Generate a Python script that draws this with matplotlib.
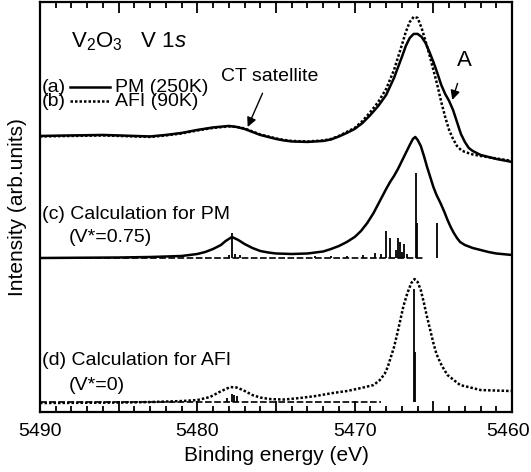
import numpy as np
import matplotlib
matplotlib.use("Agg")
import matplotlib.pyplot as plt
import matplotlib.transforms as mtransforms
from matplotlib.ticker import MultipleLocator, FuncFormatter

plt.rcParams['font.family'] = ['Liberation Sans', 'DejaVu Sans']
plt.rcParams['mathtext.fontset'] = 'custom'
plt.rcParams['mathtext.rm'] = 'Liberation Sans'
plt.rcParams['mathtext.it'] = 'Liberation Sans:italic'

# (a) experiment, PM (250K)
e_pm = [5490, 5488, 5486, 5484, 5483, 5482, 5481, 5480, 5479, 5478, 5477.5, 5477, 5476.5,
        5476, 5475.5, 5475, 5474.5, 5474, 5473, 5472, 5471.5, 5471, 5470.5, 5470, 5469.5,
        5469, 5468.5, 5468, 5467.5, 5467, 5466.75, 5466.5, 5466.25, 5466, 5465.75, 5465.5,
        5465.25, 5465, 5464.75, 5464.5, 5464.25, 5464, 5463.75, 5463.5, 5463.25, 5463,
        5462.75, 5462.5, 5462, 5461.5, 5461, 5460.5, 5460]
i_pm = [276, 276.5, 277, 276, 275.5, 277, 279, 282, 284.5, 286, 285, 283, 280,
        277, 275, 273, 271.5, 270.5, 270, 271, 272.5, 275.5, 279, 283, 289,
        297, 306, 317, 334, 355, 366, 374, 378, 378, 375, 369,
        360, 350, 339, 327, 318, 311, 302, 290, 278, 270,
        264, 261, 257, 255, 253, 251.5, 250]

# (b) experiment, AFI (90K)
e_afi = [5490, 5488, 5486, 5484, 5483, 5482, 5481, 5480, 5479, 5478, 5477.5, 5477, 5476.5,
         5476, 5475.5, 5475, 5474.5, 5474, 5473, 5472, 5471.5, 5471, 5470.5, 5470, 5469.5,
         5469, 5468.5, 5468, 5467.5, 5467, 5466.75, 5466.5, 5466.25, 5466, 5465.75, 5465.5,
         5465.25, 5465, 5464.75, 5464.5, 5464.25, 5464, 5463.75, 5463.5, 5463.25, 5463,
         5462.5, 5462, 5461, 5460]
i_afi = [275.5, 276, 276.5, 275.5, 275, 276.5, 278.5, 281.5, 284, 285.5, 285, 283.5, 280.5,
         277.5, 275.5, 273.5, 272, 271, 270.5, 271.5, 273, 276, 280, 284, 291,
         300, 310, 323, 342, 367, 380, 390, 395, 394, 384, 371,
         357, 342, 327, 310, 295, 282, 273, 266, 262, 260,
         257.5, 256, 253.5, 251]

# (c) calculation for PM (broadened)
e_cpm = [5490, 5485, 5483, 5481, 5480, 5479.5, 5479, 5478.5, 5478.2, 5477.8, 5477.4, 5477,
         5476.5, 5476, 5475.5, 5475, 5474, 5473, 5472, 5471.5, 5471, 5470.5, 5470, 5469.6,
         5469.2, 5468.8, 5468.4, 5468, 5467.75, 5467.5, 5467.25, 5467, 5466.75, 5466.5,
         5466.3, 5466.15, 5466, 5465.8, 5465.6, 5465.4, 5465.2, 5465, 5464.8, 5464.55,
         5464.3, 5464.1, 5463.9, 5463.7, 5463.5, 5463.3, 5463, 5462.5, 5462, 5461.5, 5461, 5460]
i_cpm = [154, 154.5, 155, 156, 158, 160, 163, 167, 171, 175, 172, 168,
         164, 161, 159.5, 158.5, 158, 158.5, 160.5, 163, 166, 170, 175, 181,
         189, 199, 211, 223, 230, 236, 243, 251, 259, 267,
         273, 275, 272, 266, 256, 245, 235, 225, 217, 209,
         200, 192, 185, 179, 174, 170, 167, 164, 162, 160, 158.5, 157]

# (c) line spectrum
stick_pm_base = 154
stick_pm_e = [5477.8, 5477.6, 5478.0, 5477.3, 5472.5, 5471.5, 5470.5, 5469.5, 5468.7, 5468.3,
              5468.0, 5467.75, 5467.4, 5467.25, 5467.1, 5467.0, 5466.85, 5466.7, 5466.1,
              5466.05, 5464.75]
stick_pm_top = [179, 158, 157, 157, 155.5, 156, 156, 157, 159, 158,
                181, 174, 162, 174, 170, 160, 168, 158, 239,
                189, 189]

# (d) calculation for AFI (broadened)
e_cafi = [5490, 5485, 5483, 5481, 5480, 5479.2, 5478.6, 5478.2, 5477.9, 5477.5, 5477.1,
          5476.5, 5476, 5475.4, 5474.5, 5473.5, 5472.5, 5471.4, 5470.5, 5469.6, 5468.8,
          5468.4, 5468.1, 5467.9, 5467.7, 5467.5, 5467.3, 5467.1, 5466.9, 5466.65, 5466.4,
          5466.2, 5466.0, 5465.8, 5465.6, 5465.4, 5465.2, 5465.0, 5464.8, 5464.55, 5464.3,
          5464.1, 5463.7, 5463.3, 5462.5, 5462, 5461, 5460]
i_cafi = [9, 9.5, 10, 11, 12, 15, 20, 23, 25, 24.5, 22,
          17, 14.5, 13, 12.5, 14, 16, 19, 21, 24, 27,
          32, 38, 45, 55, 65, 78, 92, 106, 119, 129,
          133, 130, 122, 109, 95, 82, 69, 58, 49, 42,
          37, 32, 27, 24, 22, 21.5, 21]

# (d) line spectrum
stick_afi_base = 10
stick_afi_e = [5478.1, 5477.8, 5477.65, 5477.5, 5466.2, 5466.15]
stick_afi_top = [14, 18, 17, 16, 123, 60]

fig = plt.figure(figsize=(5.31, 4.72), dpi=100)
ax = fig.add_axes([0.0753, 0.127, 0.889, 0.869])

lw = 1.8
dots = (0, (1, 0.8))
ax.plot(e_pm, i_pm, color='k', lw=lw)
ax.plot(e_afi, i_afi, color='k', lw=lw, ls=dots)
ax.plot(e_cpm, i_cpm, color='k', lw=lw)
ax.plot(e_cafi, i_cafi, color='k', lw=lw, ls=dots)

ax.vlines(stick_pm_e, stick_pm_base, stick_pm_top, color='k', lw=1.3)
ax.vlines(stick_afi_e, stick_afi_base, stick_afi_top, color='k', lw=1.3)
ax.plot([5490, 5465.5], [stick_pm_base, stick_pm_base], color='k', lw=1.2, ls=(0, (4, 1.5)))
ax.plot([5490, 5468.3], [stick_afi_base, stick_afi_base], color='k', lw=1.2, ls=(0, (4, 1.5)))

ax.set_xlim(5490, 5460)
ax.set_ylim(0, 410)
ax.xaxis.set_major_locator(MultipleLocator(5))
ax.xaxis.set_minor_locator(MultipleLocator(1))
ax.xaxis.set_major_formatter(FuncFormatter(lambda v, p: '%d' % v if round(v) % 10 == 0 else ''))
ax.tick_params(axis='x', which='both', direction='in', top=True, bottom=True,
               labelsize=14, width=1.3, pad=8)
ax.tick_params(axis='x', which='major', length=8)
ax.tick_params(axis='x', which='minor', length=4.5)
ax.set_yticks([])
for s in ax.spines.values():
    s.set_linewidth(1.6)

ax.set_xlabel('Binding energy (eV)', fontsize=15, labelpad=4)
ax.set_ylabel('Intensity (arb.units)', fontsize=15, labelpad=9)

# keep the last tick label inside the figure
fig.canvas.draw()
for lab in ax.get_xticklabels():
    if lab.get_text() == '5460':
        lab.set_transform(lab.get_transform() +
                          mtransforms.ScaledTranslation(-4 / 100, 0, fig.dpi_scale_trans))

fs = 14
ax.text(5488.0, 370, r'V$_2$O$_3$   V 1$s$', fontsize=16, va='center', ha='left')

# legend drawn by hand
ax.text(0.004, 0.792, '(a)', transform=ax.transAxes, fontsize=fs, va='center')
ax.plot([0.064, 0.149], [0.792, 0.792], transform=ax.transAxes, color='k', lw=lw)
ax.text(0.159, 0.792, 'PM (250K)', transform=ax.transAxes, fontsize=fs, va='center')
ax.text(0.004, 0.758, '(b)', transform=ax.transAxes, fontsize=fs, va='center')
ax.plot([0.064, 0.149], [0.758, 0.758], transform=ax.transAxes, color='k', lw=lw, ls=dots)
ax.text(0.159, 0.758, 'AFI (90K)', transform=ax.transAxes, fontsize=fs, va='center')

ax.annotate('CT satellite', xy=(5476.8, 285), xytext=(5475.4, 335), fontsize=fs,
            ha='center', va='center',
            arrowprops=dict(arrowstyle='-|>', color='k', lw=1.0, mutation_scale=14,
                            shrinkA=4, shrinkB=0))
ax.annotate('A', xy=(5463.8, 312), xytext=(5463.0, 351), fontsize=16,
            ha='center', va='center',
            arrowprops=dict(arrowstyle='-|>', color='k', lw=1.0, mutation_scale=14,
                            shrinkA=7, shrinkB=0))

ax.text(5489.9, 197, '(c) Calculation for PM', fontsize=fs, va='center')
ax.text(5488.2, 174, '(V*=0.75)', fontsize=fs, va='center')
ax.text(5489.9, 52, '(d) Calculation for AFI', fontsize=fs, va='center')
ax.text(5488.2, 27, '(V*=0)', fontsize=fs, va='center')

fig.savefig('out.png', dpi=100)
